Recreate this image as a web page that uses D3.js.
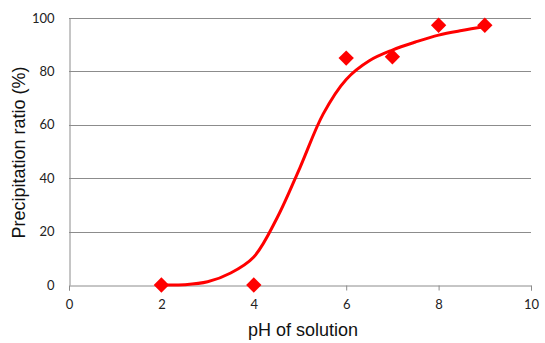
<!DOCTYPE html>
<html>
<head>
<meta charset="utf-8">
<script src="https://cdn.jsdelivr.net/npm/d3@7"></script>
<style>
  html, body { margin: 0; padding: 0; background: #fff; }
  svg { display: block; }
</style>
</head>
<body>
<svg id="chart" width="545" height="343"></svg>
<script>
// Measured precipitation ratio at each solution pH
const phValues = [2, 4, 6, 7, 8, 9];
const ratioValues = [0, 0, 85, 85.5, 97.3, 97.3];

// Fitted trend curve (pH, ratio)
const curvePh =    [2, 2.5, 3, 3.5, 4, 4.5, 5, 5.5, 6, 6.5, 7, 7.5, 8, 8.5, 9];
const curveRatio = [0, 0.1, 1.2, 4.5, 10.5, 25, 44, 64, 77, 84, 88, 91, 93.6, 95.3, 96.7];

const xTicks = [0, 2, 4, 6, 8, 10];
const yTicks = [0, 20, 40, 60, 80, 100];

const svg = d3.select("#chart");
const margin = { left: 69, right: 14, top: 18, bottom: 58 };
const W = 545, H = 343;

const x = d3.scaleLinear().domain([0, 10]).range([margin.left, W - margin.right]);
const y = d3.scaleLinear().domain([0, 100]).range([H - margin.bottom, margin.top]);

const gridColor = "#8c8c8c";

// Horizontal gridlines
svg.append("g")
  .selectAll("line")
  .data(yTicks.filter(d => d > 0))
  .join("line")
  .attr("x1", x(0)).attr("x2", x(10))
  .attr("y1", d => Math.round(y(d)) + 0.5).attr("y2", d => Math.round(y(d)) + 0.5)
  .attr("stroke", gridColor).attr("stroke-width", 1);

// Y axis
const yAxis = svg.append("g")
  .attr("transform", `translate(${Math.round(x(0)) + 0.5},0)`)
  .call(d3.axisLeft(y).tickValues(yTicks).tickSize(0).tickPadding(15));
yAxis.select(".domain").attr("stroke", gridColor);
yAxis.selectAll("text")
  .attr("font-family", "Lato, 'Open Sans', sans-serif")
  .attr("font-size", 13).attr("fill", "#222");

// X axis
const xAxis = svg.append("g")
  .attr("transform", `translate(0,${Math.round(y(0)) + 0.5})`)
  .call(d3.axisBottom(x).tickValues(xTicks).tickSize(5).tickPadding(9));
xAxis.select(".domain").attr("stroke", gridColor);
xAxis.selectAll(".tick line").attr("stroke", gridColor);
xAxis.selectAll("text")
  .attr("font-family", "Lato, 'Open Sans', sans-serif")
  .attr("font-size", 13).attr("fill", "#222");

// Trend curve
const curveData = curvePh.map((p, i) => [p, curveRatio[i]]);
svg.append("path")
  .datum(curveData)
  .attr("fill", "none")
  .attr("stroke", "#ff0000")
  .attr("stroke-width", 3)
  .attr("stroke-linecap", "round")
  .attr("d", d3.line().x(d => x(d[0])).y(d => y(d[1])).curve(d3.curveCatmullRom.alpha(0.5)));

// Diamond markers
const diamond = d3.symbol().type(d3.symbolDiamond2).size(150);
svg.append("g")
  .selectAll("path")
  .data(phValues.map((p, i) => [p, ratioValues[i]]))
  .join("path")
  .attr("transform", d => `translate(${x(d[0])},${y(d[1])})`)
  .attr("d", diamond)
  .attr("fill", "#ff0000");

// Axis titles
svg.append("text")
  .attr("x", 303)
  .attr("y", 336)
  .attr("text-anchor", "middle")
  .attr("font-family", "'Liberation Sans', Arial, sans-serif")
  .attr("font-size", 18)
  .attr("fill", "#111")
  .text("pH of solution");

svg.append("text")
  .attr("transform", "translate(24.5,152.5) rotate(-90)")
  .attr("text-anchor", "middle")
  .attr("font-family", "'Liberation Sans', Arial, sans-serif")
  .attr("font-size", 18)
  .attr("fill", "#111")
  .text("Precipitation ratio (%)");
</script>
</body>
</html>
